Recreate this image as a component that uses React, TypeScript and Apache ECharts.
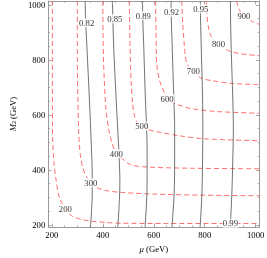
import { useEffect, useRef } from 'react';
import * as echarts from 'echarts';

const majorTicks = [200, 400, 600, 800, 1000];
const minorTicks = [200, 250, 300, 350, 400, 450, 500, 550, 600, 650, 700, 750, 800, 850, 900, 950, 1000];

// red dashed contours (mass, GeV): [mu, M2]
const red200 = [[202, 1014], [202, 800], [202.5, 548], [208, 428], [217.6, 358], [229, 301], [253, 259], [276, 234], [312, 221], [358, 213], [417, 208.5], [475, 206], [650, 205], [1015, 205]];
const red300 = [[300, 1014], [300, 800], [302, 665], [306, 524], [312, 453], [322, 406], [336, 375], [353, 353], [376, 336], [417, 324], [476, 318], [600, 312], [800, 308], [1015, 306]];
const red400 = [[400, 1014], [401, 900], [403.5, 782], [411.6, 629], [423, 548], [437, 495], [453, 459], [476, 441], [511, 418], [582, 410], [747, 406], [1015, 404]];
const red500 = [[504, 1014], [507, 850], [511, 724], [517, 641], [525, 594], [537, 570], [553, 559], [576, 547], [617, 538], [700, 524], [800, 513], [1015, 506]];
const red600 = [[607, 1014], [609, 900], [612, 782], [623, 724], [641, 682], [652, 659], [676, 644], [711, 632], [746, 623], [850, 612], [1015, 606]];
const red700 = [[710, 1014], [714, 930], [719, 866], [723, 820], [729, 790], [740, 772], [755, 761], [783, 735], [830, 724], [912, 714], [1015, 710]];
const red800 = [[806, 1014], [809, 959], [816, 912], [824, 888], [836, 872], [854, 859], [889, 835], [936, 823], [1015, 815]];
const red900 = [[925, 1014], [932, 990], [942, 972], [954, 959], [983, 941], [1015, 929]];

// black solid contours (ratio): [mu, M2]
const blk082 = [[331, 1014], [331, 1000], [338, 841], [347, 665], [355, 488], [358.5, 382], [358.5, 312], [356, 252], [352.5, 206], [351, 192]];
const blk085 = [[437, 1014], [438, 1000], [443, 841], [452, 665], [460, 524], [465, 428], [467, 358], [465, 288], [460, 206], [459, 192]];
const blk089 = [[556, 1014], [556, 1000], [561, 841], [567, 665], [573, 524], [574, 429], [573, 312], [567, 206], [566, 192]];
const blk092 = [[668, 1014], [668, 1000], [672.7, 841], [678.6, 665], [682, 548], [682, 429], [680, 312], [672.7, 206], [672, 192]];
const blk095 = [[783, 1014], [783, 1000], [786.6, 841], [791.5, 665], [792.6, 548], [791.5, 429], [789, 312], [783, 206], [782, 192]];
const blk099 = [[901, 1014], [901, 1000], [904, 841], [910, 665], [912.5, 548], [910, 429], [906.5, 312], [901, 206], [900, 192]];

const redLines = [red200, red300, red400, red500, red600, red700, red800, red900];
const blackLines = [blk082, blk085, blk089, blk092, blk095, blk099];

// contour labels
const labelTexts = ['200', '300', '400', '500', '600', '700', '800', '900', '0.82', '0.85', '0.89', '0.92', '0.95', '0.99'];
const labelMu = [253, 353, 453, 553, 652.5, 755.5, 854, 954, 336.5, 447, 559, 670, 784.5, 901];
const labelM2 = [259, 353, 459, 559, 659, 761, 859, 959, 935, 949, 961, 973, 985, 206];

const FONT = '"Liberation Serif", "DejaVu Serif", "Times New Roman", serif';
const FS = 8.7;
const FRAME = '#9a9a9a';

export default function App() {
  const ref = useRef<HTMLDivElement>(null);
  useEffect(() => {
    if (!ref.current) return;
    const chart = echarts.init(ref.current, null, { renderer: 'svg' });

    const mkAxis = (dim: 'x' | 'y', position: string, ticks: number[], len: number, labels: boolean, line: boolean, extra: any = {}) => {
      const range = dim === 'x' ? { min: 186, max: 1015 } : { min: 192, max: 1014 };
      return {
        type: 'value',
        position,
        ...range,
        splitLine: { show: false },
        axisLine: { show: line, onZero: false, lineStyle: { color: FRAME, width: 1 } },
        axisTick: { show: true, inside: true, length: len, customValues: ticks, lineStyle: { color: FRAME, width: 0.8 } },
        axisLabel: labels
          ? { show: true, customValues: majorTicks, margin: 3, fontFamily: FONT, fontSize: FS, color: '#000', formatter: (v: number) => String(v) }
          : { show: false },
        ...extra,
      };
    };

    const series: any[] = [];
    redLines.forEach((d) => {
      series.push({
        type: 'line', data: d, showSymbol: false, smooth: 0.3, z: 2,
        lineStyle: { color: '#ff4a4a', width: 0.8, type: [5, 3] },
      });
    });
    blackLines.forEach((d) => {
      series.push({
        type: 'line', data: d, showSymbol: false, smooth: 0.3, z: 3,
        lineStyle: { color: '#444', width: 0.75 },
      });
    });
    series.push({
      type: 'scatter', z: 5,
      symbolSize: 1,
      itemStyle: { color: 'rgba(0,0,0,0)' },
      data: labelTexts.map((t, i) => [labelMu[i], labelM2[i], t]),
      label: {
        show: true, position: 'inside',
        formatter: (p: any) => p.data[2],
        fontFamily: FONT, fontSize: FS, color: '#000',
        backgroundColor: '#fff', padding: [0, 0.5],
      },
    });

    chart.setOption({
      animation: false,
      grid: { left: 29, top: 1, width: 235, height: 233.5, containLabel: false },
      xAxis: [
        mkAxis('x', 'bottom', majorTicks, 3.5, true, true, {
          name: '{i|μ} (GeV)', nameLocation: 'middle', nameGap: 15,
          nameTextStyle: { fontFamily: FONT, fontSize: FS, color: '#000', rich: { i: { fontFamily: FONT, fontSize: FS, fontStyle: 'italic', color: '#000' } } },
        }),
        mkAxis('x', 'bottom', minorTicks, 1.8, false, false),
        mkAxis('x', 'top', majorTicks, 3.5, false, true),
        mkAxis('x', 'top', minorTicks, 1.8, false, false),
      ],
      yAxis: [
        mkAxis('y', 'left', majorTicks, 3.5, true, true, {
          name: '{i|M}{s|2} (GeV)', nameLocation: 'middle', nameGap: 18, nameRotate: 90,
          nameTextStyle: {
            fontFamily: FONT, fontSize: FS, color: '#000',
            rich: {
              i: { fontFamily: FONT, fontSize: FS, fontStyle: 'italic', color: '#000' },
              s: { fontFamily: FONT, fontSize: 6, color: '#000', verticalAlign: 'bottom', padding: [3, 0, 0, 0] },
            },
          },
        }),
        mkAxis('y', 'left', minorTicks, 1.8, false, false),
        mkAxis('y', 'right', majorTicks, 3.5, false, true),
        mkAxis('y', 'right', minorTicks, 1.8, false, false),
      ],
      series,
    });
    return () => chart.dispose();
  }, []);
  return <div ref={ref} style={{ position: 'fixed', left: 0, top: 0, width: 267, height: 258 }} />;
}
